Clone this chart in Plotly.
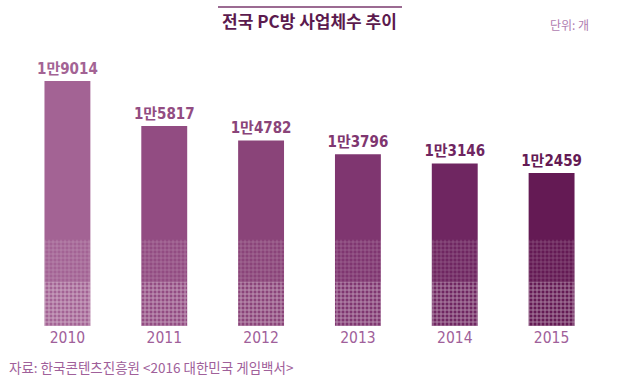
import plotly.graph_objects as go

years = ["2010", "2011", "2012", "2013", "2014", "2015"]
counts = [19014, 15817, 14782, 13796, 13146, 12459]
bar_colors = ["#a36394", "#924c82", "#8a4479", "#7f3670", "#6f2661", "#641a54"]

title_text = "전국 PC방 사업체수 추이"
unit_text = "단위: 개"
source_text = "자료: 한국콘텐츠진흥원 <2016 대한민국 게임백서>"

labels = [f"{v // 10000}만{v % 10000}" for v in counts]

FONT = "DejaVu Sans Condensed, Noto Sans CJK KR, sans-serif"
KFONT = "Noto Sans CJK KR, sans-serif"

Y_MIN, Y_MAX = 1564, 21934
HATCH_TOP = 7700
HATCH_TOP2 = 4700

fig = go.Figure()
fig.add_trace(go.Bar(
    x=years, y=counts,
    marker=dict(color=bar_colors, line=dict(width=0)),
    text=labels, textposition="outside", cliponaxis=False,
    constraintext="none",
    texttemplate="<b>%{text}</b>",
    textfont=dict(family=FONT, size=15, color=bar_colors),
    hoverinfo="skip",
))
# hatched fade at the bottom of each bar (decorative)
fig.add_trace(go.Bar(
    x=years, y=[HATCH_TOP] * len(years),
    marker=dict(color="rgba(0,0,0,0)", line=dict(width=0),
                pattern=dict(shape="+", fgcolor="rgba(255,255,255,0.55)",
                             bgcolor="rgba(0,0,0,0)", size=4, solidity=0.3,
                             fillmode="overlay")),
    hoverinfo="skip", showlegend=False,
))
fig.add_trace(go.Bar(
    x=years, y=[HATCH_TOP2] * len(years),
    marker=dict(color="rgba(0,0,0,0)", line=dict(width=0),
                pattern=dict(shape="+", fgcolor="rgba(255,255,255,0.6)",
                             bgcolor="rgba(0,0,0,0)", size=4, solidity=0.4,
                             fillmode="overlay")),
    hoverinfo="skip", showlegend=False,
))

L, R, T, B = 19, 20, 40, 55
pw = 620 - L - R
ph = 381 - T - B
def px(x): return (x - L) / pw
def py(y): return (381 - B - y) / ph

fig.update_layout(
    width=620, height=381,
    margin=dict(l=L, r=R, t=T, b=B),
    paper_bgcolor="white", plot_bgcolor="white",
    barmode="overlay", bargap=0.526, showlegend=False,
    xaxis=dict(showgrid=False, zeroline=False, showline=False, ticks="",
               tickfont=dict(family=FONT, size=15.5, color="#a0609a")),
    yaxis=dict(range=[Y_MIN, Y_MAX], visible=False),
    annotations=[
        dict(text=f"<b>{title_text}</b>", x=px(309), y=py(21), xref="paper", yref="paper",
             xanchor="center", yanchor="middle", showarrow=False,
             font=dict(family=KFONT, size=17, color="#5c1a4e")),
        dict(text=unit_text, x=px(591), y=py(25), xref="paper", yref="paper",
             xanchor="right", yanchor="middle", showarrow=False,
             font=dict(family=KFONT, size=12, color="#b07cb0")),
        dict(text=source_text, x=px(7), y=py(367), xref="paper", yref="paper",
             xanchor="left", yanchor="middle", showarrow=False,
             font=dict(family=KFONT, size=13.5, color="#a0609a")),
    ],
)
fig.add_shape(type="line", xref="paper", yref="paper",
              x0=px(218), x1=px(402), y0=py(7), y1=py(7),
              line=dict(color="#7a3a6e", width=1.5))

fig.write_html("out.html", config={"displayModeBar": False},
               post_script="document.body.style.margin='0';")
